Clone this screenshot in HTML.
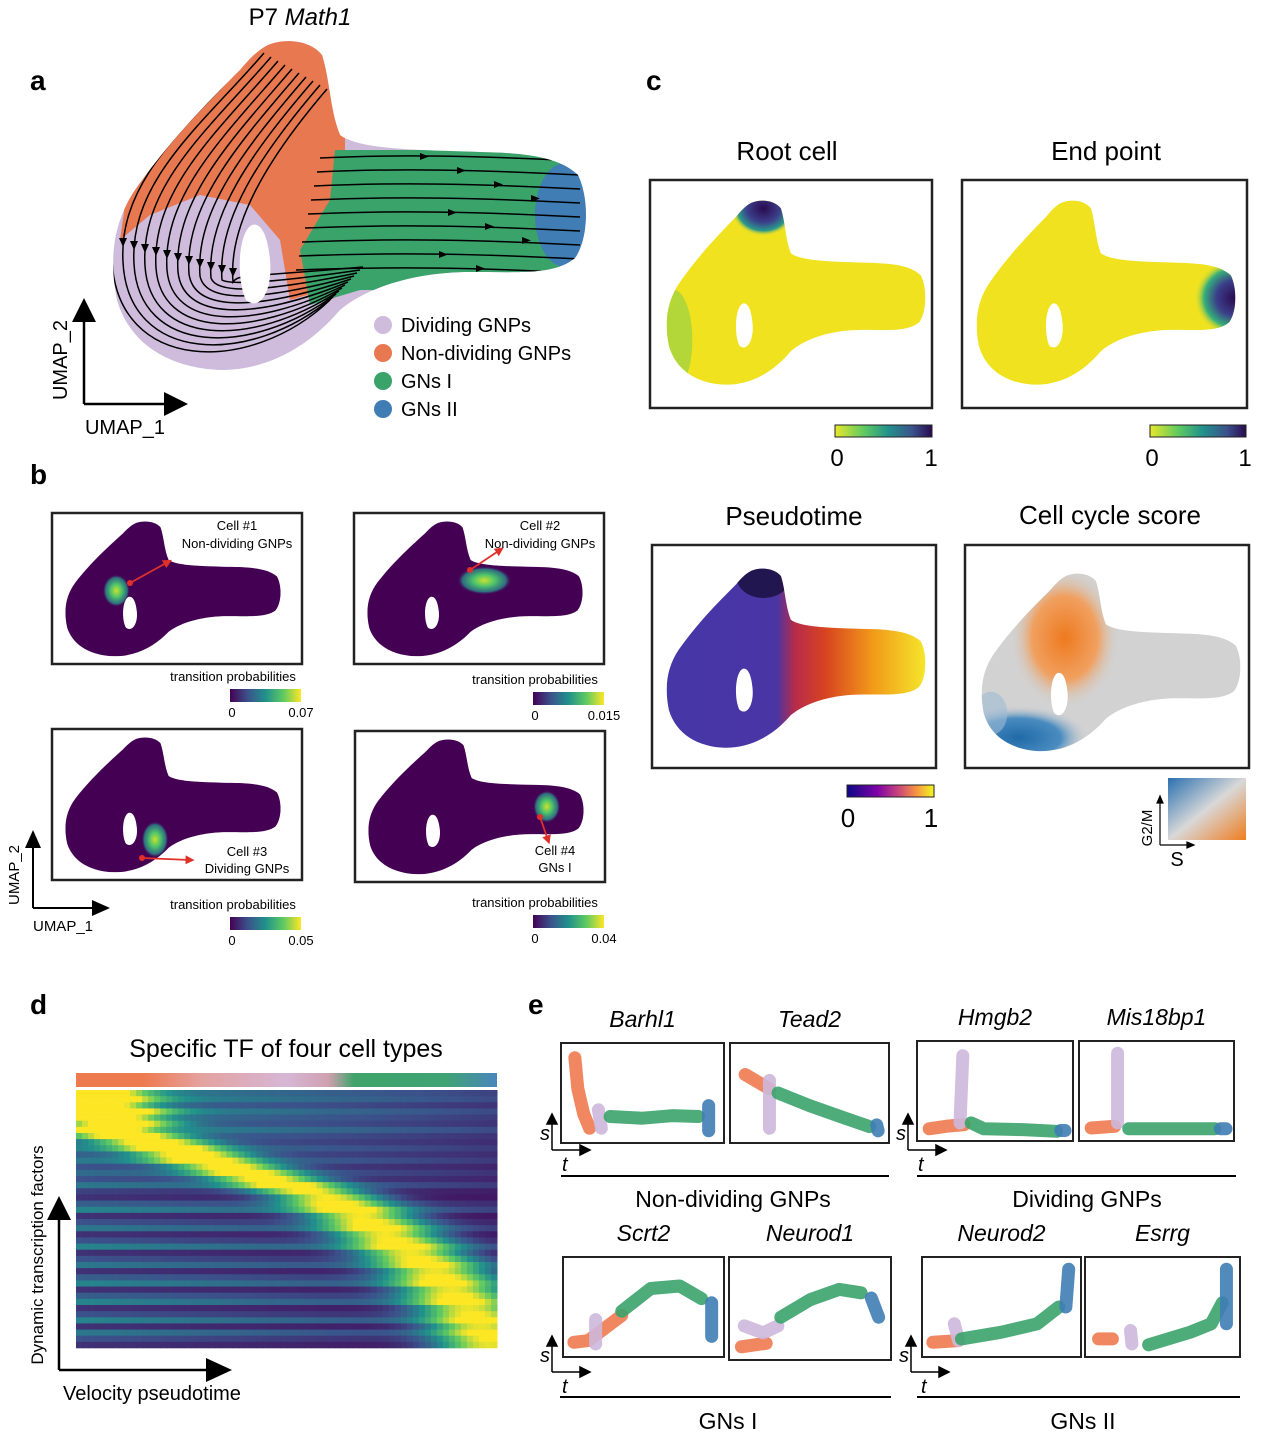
<!DOCTYPE html>
<html><head><meta charset="utf-8">
<style>
html,body{margin:0;padding:0;background:#fff;}
svg{display:block;font-family:"Liberation Sans",Arial,sans-serif;}
</style></head>
<body>
<svg id="fig" width="1261" height="1440" viewBox="0 0 1261 1440" xmlns="http://www.w3.org/2000/svg">
<defs>
  <path id="blob" d="M268,45 C285,38 310,40 322,55 C330,80 330,110 340,135 C360,150 420,150 480,152 C530,153 560,158 578,175 C590,200 588,240 575,258 C555,275 520,272 470,272 C420,272 370,285 340,310 C310,345 270,370 220,370 C170,368 130,345 117,300 C108,255 115,220 135,190 C170,140 210,100 240,70 C250,58 258,50 268,45 Z M252,225 C238,232 236,280 246,300 C260,312 273,290 270,260 C268,238 262,222 252,225 Z" fill-rule="evenodd"/>
  <clipPath id="blobclip"><use href="#blob"/></clipPath>
  <marker id="arrR" viewBox="0 0 10 10" refX="5" refY="5" markerWidth="5" markerHeight="5" orient="auto"><path d="M0,0 L10,5 L0,10 Z" fill="#e0302a"/></marker>
  <linearGradient id="viridis" x1="0" x2="1"><stop offset="0" stop-color="#440154"/><stop offset="0.25" stop-color="#3b528b"/><stop offset="0.5" stop-color="#21918c"/><stop offset="0.75" stop-color="#5ec962"/><stop offset="1" stop-color="#fde725"/></linearGradient>
  <linearGradient id="viridisR" x1="0" x2="1"><stop offset="0" stop-color="#e8e82a"/><stop offset="0.3" stop-color="#5ec962"/><stop offset="0.55" stop-color="#21918c"/><stop offset="0.8" stop-color="#3b528b"/><stop offset="1" stop-color="#2a0a50"/></linearGradient>
  <linearGradient id="plasma" x1="0" x2="1"><stop offset="0" stop-color="#0d0887"/><stop offset="0.35" stop-color="#7e03a8"/><stop offset="0.6" stop-color="#cc4778"/><stop offset="0.8" stop-color="#f89540"/><stop offset="1" stop-color="#f0f921"/></linearGradient>
  <linearGradient id="pseudo" gradientUnits="userSpaceOnUse" x1="110" x2="585" y1="0" y2="0"><stop offset="0" stop-color="#4636a6"/><stop offset="0.43" stop-color="#4a35a5"/><stop offset="0.5" stop-color="#b72b4a"/><stop offset="0.62" stop-color="#d8441f"/><stop offset="0.8" stop-color="#f29a1a"/><stop offset="1" stop-color="#f5e52a"/></linearGradient>
  <linearGradient id="topbar" x1="0" x2="1"><stop offset="0" stop-color="#ee7a50"/><stop offset="0.16" stop-color="#ee7a50"/><stop offset="0.3" stop-color="#e4a2a0"/><stop offset="0.5" stop-color="#d6b6d6"/><stop offset="0.6" stop-color="#d0a0b0"/><stop offset="0.66" stop-color="#3fa36a"/><stop offset="0.88" stop-color="#3fa374"/><stop offset="1" stop-color="#4a86bd"/></linearGradient>
  <linearGradient id="cc2d" x1="0" y1="0" x2="1" y2="1"><stop offset="0" stop-color="#2a70b0"/><stop offset="0.5" stop-color="#d8d8d8"/><stop offset="1" stop-color="#ef7d1f"/></linearGradient>
  <radialGradient id="rootTip" cx="0.5" cy="0.5" r="0.5"><stop offset="0" stop-color="#2a0a50"/><stop offset="0.5" stop-color="#3b3f8a"/><stop offset="0.8" stop-color="#2a9a8a"/><stop offset="1" stop-color="#fde725" stop-opacity="0"/></radialGradient>
  <radialGradient id="endTip" cx="0.5" cy="0.5" r="0.5"><stop offset="0" stop-color="#2a0a50"/><stop offset="0.45" stop-color="#3b3f8a"/><stop offset="0.75" stop-color="#36b07a"/><stop offset="1" stop-color="#fde725" stop-opacity="0"/></radialGradient>
  <radialGradient id="greenglow" cx="0.5" cy="0.5" r="0.5"><stop offset="0" stop-color="#c8e030"/><stop offset="0.4" stop-color="#4ec46a"/><stop offset="0.8" stop-color="#2a8a8a" stop-opacity="0.8"/><stop offset="1" stop-color="#440154" stop-opacity="0"/></radialGradient>
  <radialGradient id="orangeg" cx="0.5" cy="0.5" r="0.5"><stop offset="0" stop-color="#ee7a1f"/><stop offset="0.6" stop-color="#f0a060"/><stop offset="1" stop-color="#d0d0d0" stop-opacity="0"/></radialGradient>
  <radialGradient id="blueg" cx="0.5" cy="0.5" r="0.5"><stop offset="0" stop-color="#1f6aa8"/><stop offset="0.6" stop-color="#4a8cc0"/><stop offset="1" stop-color="#d0d0d0" stop-opacity="0"/></radialGradient>
</defs>

<!-- Panel a -->
<text x="300" y="25" font-size="24" text-anchor="middle">P7 <tspan font-style="italic">Math1</tspan></text>
<text x="30" y="90" font-size="28" font-weight="bold">a</text>
<g clip-path="url(#blobclip)">
  <rect x="100" y="30" width="500" height="350" fill="#cfbcdc"/>
  <path d="M230,30 L345,30 L345,150 L335,200 L325,290 L290,300 L280,240 L250,205 L200,195 L150,215 L120,240 L130,170 Z" fill="#e8784f"/>
  <path d="M335,150 L560,150 L560,290 L360,290 L310,305 L300,250 L330,200 Z" fill="#3aa36a"/>
  <ellipse cx="565" cy="215" rx="30" ry="52" fill="#3f7db4"/>
  <g id="streams" fill="none" stroke="#000" stroke-width="1.5"></g>
</g>
<g font-size="20">
  <circle cx="383" cy="325" r="9" fill="#cfbcdc"/><text x="401" y="332">Dividing GNPs</text>
  <circle cx="383" cy="353" r="9" fill="#e8784f"/><text x="401" y="360">Non-dividing GNPs</text>
  <circle cx="383" cy="381" r="9" fill="#3aa36a"/><text x="401" y="388">GNs I</text>
  <circle cx="383" cy="409" r="9" fill="#3f7db4"/><text x="401" y="416">GNs II</text>
</g>
<g>
  <line x1="84" y1="404" x2="84" y2="318" stroke="#000" stroke-width="2.5"/>
  <path d="M72,322 L84,298 L96,322 Z" fill="#000"/>
  <line x1="84" y1="404" x2="168" y2="404" stroke="#000" stroke-width="2.5"/>
  <path d="M164,392 L188,404 L164,416 Z" fill="#000"/>
  <text x="67" y="360" font-size="20" text-anchor="middle" transform="rotate(-90 67 360)">UMAP_2</text>
  <text x="125" y="434" font-size="20" text-anchor="middle">UMAP_1</text>
</g>

<!-- Panel c -->
<text x="646" y="90" font-size="28" font-weight="bold">c</text>
<text x="787" y="160" font-size="26" text-anchor="middle">Root cell</text>
<text x="1106" y="160" font-size="26" text-anchor="middle">End point</text>
<rect x="650" y="180" width="282" height="228" fill="none" stroke="#222" stroke-width="2.5"/>
<rect x="962" y="180" width="285" height="228" fill="none" stroke="#222" stroke-width="2.5"/>
<g transform="translate(665,200) scale(0.547,0.56) translate(-110,-40)">
  <g clip-path="url(#blobclip)">
    <rect x="100" y="30" width="500" height="350" fill="#f0e21e"/>
    <ellipse cx="125" cy="290" rx="35" ry="90" fill="#8ad04a" opacity="0.6"/>
    <ellipse cx="290" cy="55" rx="60" ry="50" fill="url(#rootTip)"/>
  </g>
</g>
<g transform="translate(975,200) scale(0.547,0.56) translate(-110,-40)">
  <g clip-path="url(#blobclip)">
    <rect x="100" y="30" width="500" height="350" fill="#f0e21e"/>
    <ellipse cx="585" cy="215" rx="75" ry="70" fill="url(#endTip)"/>
  </g>
</g>
<rect x="835" y="425" width="97" height="12" fill="url(#viridisR)" stroke="#222"/>
<text x="837" y="466" font-size="24" text-anchor="middle">0</text><text x="931" y="466" font-size="24" text-anchor="middle">1</text>
<rect x="1150" y="425" width="96" height="12" fill="url(#viridisR)" stroke="#222"/>
<text x="1152" y="466" font-size="24" text-anchor="middle">0</text><text x="1245" y="466" font-size="24" text-anchor="middle">1</text>

<text x="794" y="525" font-size="26" text-anchor="middle">Pseudotime</text>
<text x="1110" y="524" font-size="26" text-anchor="middle">Cell cycle score</text>
<rect x="652" y="545" width="284" height="223" fill="none" stroke="#222" stroke-width="2.5"/>
<rect x="965" y="545" width="284" height="223" fill="none" stroke="#222" stroke-width="2.5"/>
<g transform="translate(665,568) scale(0.547,0.545) translate(-110,-40)">
  <g clip-path="url(#blobclip)">
    <rect x="100" y="30" width="500" height="350" fill="url(#pseudo)"/>
    <ellipse cx="290" cy="55" rx="50" ry="40" fill="#1a1040" opacity="0.85"/>
  </g>
</g>
<g transform="translate(980,573) scale(0.547,0.54) translate(-110,-40)">
  <g clip-path="url(#blobclip)">
    <rect x="100" y="30" width="500" height="350" fill="#d2d2d2"/>
    <ellipse cx="265" cy="160" rx="100" ry="130" fill="url(#orangeg)"/>
    <ellipse cx="180" cy="345" rx="130" ry="60" fill="url(#blueg)"/>
    <ellipse cx="130" cy="300" rx="30" ry="40" fill="#9fbbd4" opacity="0.6"/>
  </g>
</g>
<rect x="847" y="785" width="87" height="12" fill="url(#plasma)" stroke="#222"/>
<text x="848" y="827" font-size="26" text-anchor="middle">0</text><text x="931" y="827" font-size="26" text-anchor="middle">1</text>
<rect x="1168" y="778" width="78" height="62" fill="url(#cc2d)"/>
<g stroke="#000" stroke-width="1.2">
  <line x1="1160" y1="845" x2="1160" y2="800"/><path d="M1157,803 L1160,796 L1163,803Z" fill="#000"/>
  <line x1="1160" y1="845" x2="1190" y2="845"/><path d="M1187,842 L1194,845 L1187,848Z" fill="#000"/>
</g>
<text x="1152" y="828" font-size="15" text-anchor="middle" transform="rotate(-90 1152 828)">G2/M</text>
<text x="1177" y="866" font-size="20" text-anchor="middle">S</text>

<!-- Panel b -->
<text x="30" y="484" font-size="28" font-weight="bold">b</text>
<g id="bpanels"></g>
<g>
  <line x1="33" y1="908" x2="33" y2="845" stroke="#000" stroke-width="2"/><path d="M25,848 L33,830 L41,848Z" fill="#000"/>
  <line x1="33" y1="908" x2="95" y2="908" stroke="#000" stroke-width="2"/><path d="M92,900 L110,908 L92,916Z" fill="#000"/>
  <text x="19" y="875" font-size="15" text-anchor="middle" transform="rotate(-90 19 875)">UMAP_2</text>
  <text x="63" y="931" font-size="15" text-anchor="middle">UMAP_1</text>
</g>

<!-- Panel d -->
<text x="30" y="1014" font-size="28" font-weight="bold">d</text>
<text x="286" y="1057" font-size="25" text-anchor="middle">Specific TF of four cell types</text>
<rect x="76" y="1073" width="421" height="14" fill="url(#topbar)"/>
<g id="heatmap"></g>
<g>
  <line x1="59" y1="1370" x2="59" y2="1215" stroke="#000" stroke-width="2.5"/><path d="M47,1220 L59,1196 L71,1220Z" fill="#000"/>
  <line x1="59" y1="1370" x2="210" y2="1370" stroke="#000" stroke-width="2.5"/><path d="M206,1358 L232,1370 L206,1382Z" fill="#000"/>
  <text x="43" y="1255" font-size="17" text-anchor="middle" transform="rotate(-90 43 1255)">Dynamic transcription factors</text>
  <text x="152" y="1400" font-size="20" text-anchor="middle">Velocity pseudotime</text>
</g>

<!-- Panel e -->
<text x="528" y="1014" font-size="28" font-weight="bold">e</text>
<g id="epanels"></g>
<g font-size="23" text-anchor="middle">
  <line x1="561" y1="1176" x2="889" y2="1176" stroke="#000" stroke-width="2"/>
  <line x1="917" y1="1176" x2="1236" y2="1176" stroke="#000" stroke-width="2"/>
  <line x1="560" y1="1397" x2="891" y2="1397" stroke="#000" stroke-width="2"/>
  <line x1="917" y1="1397" x2="1240" y2="1397" stroke="#000" stroke-width="2"/>
  <text x="733" y="1207">Non-dividing GNPs</text>
  <text x="1087" y="1207">Dividing GNPs</text>
  <text x="728" y="1429">GNs I</text>
  <text x="1083" y="1429">GNs II</text>
</g>
</svg>

<script>
// ---- Heatmap data (peak position of each TF row along pseudotime, 0..1) ----
var heatPeaks = [0.03,0.05,0.04,0.08,0.06,0.1,0.05,0.12,0.18,0.22,0.27,0.3,0.36,0.4,0.45,0.5,0.55,0.6,0.62,0.65,0.68,0.7,0.72,0.74,0.76,0.78,0.8,0.82,0.84,0.86,0.87,0.88,0.9,0.91,0.92,0.94,0.95,0.96,0.97,0.98,0.99,0.99];
var heatBase = [0.45,0.5,0.35,0.5,0.4,0.35,0.5,0.35,0.3,0.4,0.3,0.4,0.25,0.35,0.25,0.4,0.2,0.15,0.3,0.45,0.15,0.25,0.4,0.15,0.25,0.45,0.15,0.25,0.4,0.15,0.3,0.45,0.15,0.3,0.45,0.15,0.25,0.45,0.15,0.4,0.25,0.15];
var heatCols = 70;

// ---- Panel e data: [latent time, spliced s] points per gene and cell type ----
var geneNames = ["Barhl1","Tead2","Hmgb2","Mis18bp1","Scrt2","Neurod1","Neurod2","Esrrg"];
var geneOrange = [
  [[0.04,0.92],[0.06,0.55],[0.1,0.25],[0.14,0.08]],
  [[0.05,0.72],[0.12,0.65],[0.22,0.55]],
  [[0.03,0.05],[0.15,0.08],[0.28,0.1]],
  [[0.03,0.06],[0.2,0.08]],
  [[0.02,0.08],[0.12,0.1],[0.35,0.4]],
  [[0.03,0.06],[0.2,0.1]],
  [[0.02,0.08],[0.2,0.1]],
  [[0.04,0.12],[0.14,0.12]]];
var geneLav = [
  [[0.2,0.3],[0.22,0.08]],
  [[0.22,0.65],[0.22,0.08]],
  [[0.27,0.92],[0.25,0.12]],
  [[0.22,0.95],[0.22,0.12]],
  [[0.17,0.35],[0.17,0.06]],
  [[0.05,0.3],[0.18,0.22],[0.28,0.3]],
  [[0.17,0.3],[0.2,0.1]],
  [[0.27,0.22],[0.28,0.06]]];
var geneGreen = [
  [[0.28,0.22],[0.5,0.2],[0.7,0.23],[0.88,0.22]],
  [[0.28,0.5],[0.5,0.35],[0.75,0.2],[0.92,0.1]],
  [[0.33,0.12],[0.42,0.05],[0.7,0.04],[0.94,0.02]],
  [[0.3,0.05],[0.6,0.05],[0.92,0.05]],
  [[0.35,0.45],[0.55,0.72],[0.75,0.75],[0.9,0.6]],
  [[0.3,0.4],[0.5,0.6],[0.7,0.72],[0.85,0.68]],
  [[0.22,0.12],[0.5,0.2],[0.75,0.3],[0.9,0.5]],
  [[0.4,0.05],[0.7,0.2],[0.85,0.3],[0.93,0.55]]];
var geneBlue = [
  [[0.95,0.35],[0.95,0.05]],
  [[0.97,0.12],[0.98,0.05]],
  [[0.97,0.03],[1.0,0.03]],
  [[0.96,0.05],[1.0,0.05]],
  [[0.97,0.55],[0.97,0.15]],
  [[0.92,0.62],[0.97,0.4]],
  [[0.95,0.5],[0.97,0.95]],
  [[0.96,0.3],[0.96,0.95]]];

// ---- Panel b data ----
var bCells = ["Cell #1","Cell #2","Cell #3","Cell #4"];
var bTypes = ["Non-dividing GNPs","Non-dividing GNPs","Dividing GNPs","GNs I"];
var bMax = ["0.07","0.015","0.05","0.04"];

var NS = "http://www.w3.org/2000/svg";
function mk(tag, attrs, parent){var e=document.createElementNS(NS,tag);for(var k in attrs)e.setAttribute(k,attrs[k]);if(parent)parent.appendChild(e);return e;}

function viridis(t){
  var s=[[68,1,84],[59,82,139],[33,145,140],[94,201,98],[253,231,37]];
  t=Math.max(0,Math.min(1,t));var p=t*4,i=Math.min(3,Math.floor(p)),f=p-i;
  var c=s[i].map(function(v,j){return Math.round(v+(s[i+1][j]-v)*f);});
  return "rgb("+c.join(",")+")";
}

// streamlines (decorative)
(function(){
  var g=document.getElementById('streams');
  for(var k=0;k<9;k++){
    var y=158+k*14;
    var p=mk('path',{d:'M'+(320-k*3)+','+y+' C400,'+(y-4)+' 480,'+(y-2)+' 580,'+(y+3)},g);
    var ax=420+((k*37)%120);
    mk('path',{d:'M'+ax+','+(y-5)+' l9,3.5 l-9,3.5z',fill:'#000',stroke:'none'},g);
  }
  for(var k=0;k<12;k++){
    var sx=250+k*7, sy=45+k*4;
    var lx=112+k*11, by=368-k*9;
    var d='M'+sx+','+sy+' C'+(sx-60)+','+(sy+70)+' '+(lx-5)+','+(170+k*5)+' '+lx+','+(260+k*2)+
          ' C'+(lx+5)+','+(by+5)+' '+(250)+','+(by+8)+' '+(330+k*3)+','+(300-k*3);
    mk('path',{d:d},g);
    mk('path',{d:'M'+(lx-4)+','+(235+k*3)+' l4,9 l4,-9z',fill:'#000',stroke:'none'},g);
  }
})();

// heatmap
(function(){
  var g=document.getElementById('heatmap');
  var x0=76,y0=1090,W=421,H=258;
  var xs=function(c){return x0+c*W/heatCols;};
  var ys=function(r){return y0+r*H/heatPeaks.length;};
  mk('rect',{x:x0,y:y0,width:W,height:H,fill:'#3b2a7a'},g);
  for(var r=0;r<heatPeaks.length;r++){
    for(var c=0;c<heatCols;c++){
      var t=c/(heatCols-1);
      var d=(t-heatPeaks[r])/0.13;
      var v=heatBase[r]*(1-t*0.55)+0.9*Math.exp(-d*d);
      var rc=mk('rect',{x:xs(c),y:ys(r),width:W/heatCols+0.5,height:H/heatPeaks.length+0.3,fill:viridis(v)},g);
      
      
    }
  }
})();

// panel b
(function(){
  var g=document.getElementById('bpanels');
  var frames=[[52,513],[354,513],[52,729],[355,731]];
  var spots=[[225,210,30,40],[370,185,60,35],[310,290,30,45],[505,205,30,40]];
  var arrows=[[130,583,168,562],[470,570,500,550],[142,858,190,860],[540,817,548,840]];
  var labels=[[237,530,548],[540,530,548],[247,856,873],[555,855,872]];
  var cbx=[230,533,230,533], cby=[689,692,917,915];
  for(var i=0;i<4;i++){
    var fx=frames[i][0],fy=frames[i][1];
    var pg=mk('g',{},g);
    
    
    mk('rect',{x:fx,y:fy,width:250,height:151,fill:'none',stroke:'#222','stroke-width':2.5},pg);
    var ug=mk('g',{transform:'translate('+(fx+12)+','+(fy+8)+') scale(0.455,0.41) translate(-110,-40)'},pg);
    var cg=mk('g',{'clip-path':'url(#blobclip)'},ug);
    mk('rect',{x:100,y:30,width:500,height:350,fill:'#440154'},cg);
    mk('ellipse',{cx:spots[i][0],cy:spots[i][1],rx:spots[i][2],ry:spots[i][3],fill:'url(#greenglow)'},cg);
    var a=arrows[i];
    mk('line',{x1:a[0],y1:a[1],x2:a[2],y2:a[3],stroke:'#e0302a','stroke-width':1.8,'marker-end':'url(#arrR)'},pg);
    mk('circle',{cx:a[0],cy:a[1],r:3,fill:'#e0302a'},pg);
    var l=labels[i];
    var t1=mk('text',{x:l[0],y:l[1],'font-size':13,'text-anchor':'middle'},pg);t1.textContent=bCells[i];
    var t2=mk('text',{x:l[0],y:l[2],'font-size':13,'text-anchor':'middle'},pg);t2.textContent=bTypes[i];
    var t3=mk('text',{x:(i%2==0?233:535),y:cby[i]-8,'font-size':13,'text-anchor':'middle'},pg);t3.textContent='transition probabilities';
    mk('rect',{x:cbx[i],y:cby[i],width:71,height:13,fill:'url(#viridis)'},pg);
    var t4=mk('text',{x:cbx[i]+2,y:cby[i]+28,'font-size':13,'text-anchor':'middle'},pg);t4.textContent='0';
    var t5=mk('text',{x:cbx[i]+71,y:cby[i]+28,'font-size':13,'text-anchor':'middle'},pg);t5.textContent=bMax[i];
  }
})();

// panel e
(function(){
  var g=document.getElementById('epanels');
  var boxes=[[561,1043,163,100],[730,1043,159,100],[917,1041,156,100],[1079,1041,155,100],[563,1257,161,100],[729,1257,162,103],[922,1257,159,100],[1085,1257,155,100]];
  for(var i=0;i<8;i++){
    var b=boxes[i];
    var pg=mk('g',{},g);
    
    
    var tt=mk('text',{x:b[0]+b[2]/2,y:b[1]-16,'font-size':23,'font-style':'italic','text-anchor':'middle'},pg);tt.textContent=geneNames[i];
    var xs=(function(b){return function(t){return b[0]+8+t*(b[2]-16);};})(b);
    var ys=(function(b){return function(v){return b[1]+b[3]-8-v*(b[3]-16);};})(b);
    var segs=[[geneOrange[i],'#ee7a50'],[geneLav[i],'#cdb8dc'],[geneGreen[i],'#3aa36a'],[geneBlue[i],'#3f7db4']];
    segs.forEach(function(s){
      var pts=s[0].map(function(p){return xs(p[0])+','+ys(p[1]);});
      var pl=mk('polyline',{points:pts.join(' '),fill:'none',stroke:s[1],'stroke-width':13,'stroke-linecap':'round','stroke-linejoin':'round',opacity:0.9},pg);
      
      
    });
    mk('rect',{x:b[0],y:b[1],width:b[2],height:b[3],fill:'none',stroke:'#222','stroke-width':2},pg);
  }
  var ax=[[552,1150],[908,1150],[552,1372],[911,1372]];
  ax.forEach(function(a){
    var ag=mk('g',{stroke:'#000','stroke-width':1.5},g);
    
    
    mk('line',{x1:a[0],y1:a[1],x2:a[0],y2:a[1]-28},ag);
    mk('path',{d:'M'+(a[0]-5)+','+(a[1]-26)+' l5,-10 l5,10z',fill:'#000'},ag);
    mk('line',{x1:a[0],y1:a[1],x2:a[0]+30,y2:a[1]},ag);
    mk('path',{d:'M'+(a[0]+28)+','+(a[1]-5)+' l10,5 l-10,5z',fill:'#000'},ag);
    var s=mk('text',{x:a[0]-12,y:a[1]-10,'font-size':20,'font-style':'italic',stroke:'none'},g);s.textContent='s';
    var t=mk('text',{x:a[0]+10,y:a[1]+21,'font-size':20,'font-style':'italic',stroke:'none'},g);t.textContent='t';
  });
})();
</script>
</body></html>
